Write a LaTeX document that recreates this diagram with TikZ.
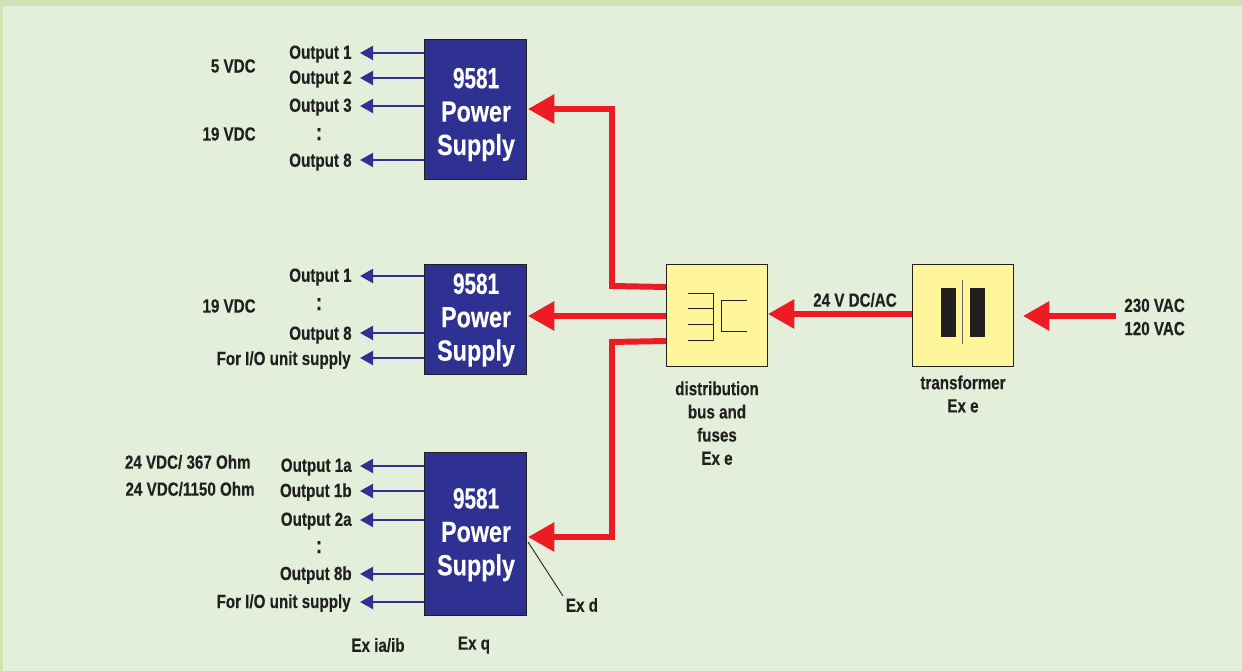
\documentclass[tikz,border=0pt]{standalone}
\usepackage{fontspec}
\setmainfont{Liberation Sans}[FakeStretch=0.8,BoldFeatures={FakeBold=0.25}]
\newfontfamily\numfont{Liberation Sans}[FakeStretch=0.71,BoldFeatures={FakeBold=0.25}]
\usetikzlibrary{arrows.meta,positioning}
\definecolor{outerbg}{HTML}{CFE3B5}
\definecolor{innerbg}{HTML}{E4EFDB}
\definecolor{psblue}{HTML}{2E3191}
\definecolor{busred}{HTML}{ED1C24}
\definecolor{boxyellow}{HTML}{FFF599}
\definecolor{ink}{HTML}{231F20}
\tikzset{
  psbox/.style={draw=ink,line width=0.5pt,fill=psblue,minimum width=2.04cm,inner sep=0pt},
  pstext/.style={text=white,align=center,inner sep=0pt,xshift=0.6pt,
    font=\fontsize{16.6}{19}\selectfont\bfseries},
  yellowbox/.style={draw=ink,line width=0.5pt,fill=boxyellow,minimum width=2.02cm,minimum height=2.04cm,inner sep=0pt},
  lbl/.style={text=ink,inner sep=0pt,font=\fontsize{10.8}{13.2}\selectfont\bfseries,align=center},
  outlbl/.style={lbl,yshift=-1.2pt},
  dots/.style={lbl,yshift=-1.2pt,font=\fontsize{13.5}{14}\selectfont\bfseries},
  outarrow/.style={draw=psblue,line width=1.5pt,-{Triangle[length=7.5pt,width=8pt]}},
  busarrow/.style={draw=busred,line width=3.4pt,-{Triangle[length=15pt,width=16pt,sep=0pt]}},
  thin line/.style={draw=ink,line width=0.5pt},
}
\begin{document}
\begin{tikzpicture}[x=0.02cm,y=-0.02cm]
\useasboundingbox (0,0) rectangle (1242,671);
\fill[outerbg] (0,0) rectangle (1242,671);
\fill[innerbg] (3,6) rectangle (1242,671);

% power supplies
\node[psbox,minimum height=2.8cm,label={[pstext,yshift=-3.1pt]center:{{\numfont\bfseries 9581}\\Power\\Supply}}] (ps1) at (475,109) {};
\node[psbox,minimum height=2.2cm,label={[pstext,yshift=-0.6pt]center:{{\numfont\bfseries 9581}\\Power\\Supply}}] (ps2) at (475,319) {};
\node[psbox,minimum height=3.26cm,label={[pstext,yshift=-0.7pt]center:{{\numfont\bfseries 9581}\\Power\\Supply}}] (ps3) at (475,533.5) {};

% yellow boxes
\node[yellowbox] (dist) at (716.5,315) {};
\node[yellowbox] (trans) at (962.5,315) {};

% transformer symbol
\fill[ink] (941,288) rectangle (956,337);
\fill[ink] (970,288) rectangle (985,337);
\draw[draw=ink!70,line width=0.6pt] (962.5,280) -- (962.5,344);

% distribution symbol
\draw[thin line] (688,293) -- (713,293) -- (713,340) -- (688,340);
\draw[thin line] (688,308.5) -- (713,308.5);
\draw[thin line] (688,324.5) -- (713,324.5);
\draw[thin line] (747,300.5) -- (721.5,300.5) -- (721.5,331) -- (747,331);

% coordinates
\coordinate (in1) at (528,109);
\coordinate (in2) at (528,316);
\coordinate (in3) at (528,537);
\coordinate (d1) at (666,287);
\coordinate (d2) at (666,316);
\coordinate (d3) at (666,341);

% red bus
\draw[busarrow] (d1) -- (612,286) -- (612,109) -- (in1);
\draw[busarrow] (d2) -- (in2);
\draw[busarrow] (d3) -- (612,342) -- (612,537) -- (in3);
\draw[busarrow] (trans.west |- 0,314) -- (768,314);
\coordinate (src) at (1116,316);
\draw[busarrow] (src) -- (1023,316);

% outputs
\foreach \n/\yy in {a/53,b/78,c/106,d/160}{\coordinate (p\n) at (ps1.west |- 0,\yy); \coordinate (t\n) at (360,\yy); \draw[outarrow] (p\n) -- (t\n);}
\foreach \n/\yy in {e/276,f/333,g/358}{\coordinate (p\n) at (ps2.west |- 0,\yy); \coordinate (t\n) at (360,\yy); \draw[outarrow] (p\n) -- (t\n);}
\foreach \n/\yy in {h/466,i/491,j/520,k/574,l/602}{\coordinate (p\n) at (ps3.west |- 0,\yy); \coordinate (t\n) at (360,\yy); \draw[outarrow] (p\n) -- (t\n);}

% labels group 1
\node[outlbl,anchor=east] (l1) at (352,52) {Output 1};
\node[outlbl,anchor=east] (l2) at (352,77) {Output 2};
\node[outlbl,anchor=east] (l3) at (352,105) {Output 3};
\node[dots] (l4) at (319,132) {:};
\node[outlbl,anchor=east] (l5) at (352,160) {Output 8};
\node[lbl,anchor=east] (v1) at (256,66) {5 VDC};
\node[lbl,anchor=east] (v2) at (256,134) {19 VDC};
% group 2
\node[outlbl,anchor=east] (m1) at (352,275) {Output 1};
\node[dots] (m2) at (319,302) {:};
\node[outlbl,anchor=east] (m3) at (352,333) {Output 8};
\node[outlbl,anchor=east] (m4) at (351,358) {For I/O unit supply};
\node[lbl,anchor=east] (v3) at (256,306) {19 VDC};
% group 3
\node[outlbl,anchor=east] (n1) at (352,465) {Output 1a};
\node[outlbl,anchor=east] (n2) at (352,490) {Output 1b};
\node[outlbl,anchor=east] (n3) at (352,519) {Output 2a};
\node[dots] (n4) at (319,545) {:};
\node[outlbl,anchor=east] (n5) at (352,573) {Output 8b};
\node[outlbl,anchor=east] (n6) at (351,601) {For I/O unit supply};
\node[lbl,anchor=east] (v4) at (251,462) {24 VDC/ 367 Ohm};
\node[lbl,anchor=east] (v5) at (255,489) {24 VDC/1150 Ohm};
\node[outlbl] (exi) at (378,643) {Ex ia/ib};
\node[outlbl] (exq) at (474,643) {Ex q};
\node[lbl] (exd) at (582,605) {Ex d};
\coordinate (exdtip) at (528,542);
\draw[thin line] (exdtip) -- (563,596);

% right labels
\node[lbl] (l24) at (855,300) {24 V DC/AC};
\node[outlbl,anchor=north] (ldist) at (717,379) {distribution\\bus and\\fuses\\Ex e};
\node[outlbl,anchor=north] (ltrans) at (963,373) {transformer\\Ex e};
\node[lbl,anchor=west] (lv) at (1124,317) {230 VAC\\120 VAC};
\end{tikzpicture}
\end{document}
